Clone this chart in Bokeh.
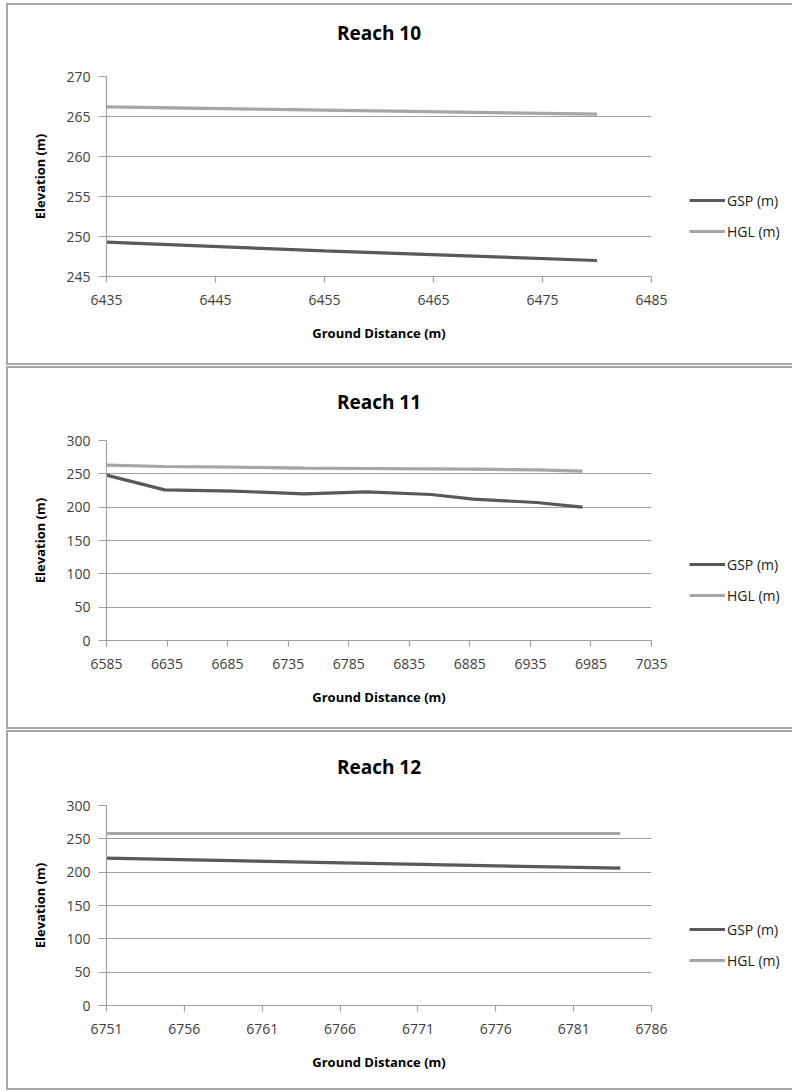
from bokeh.plotting import figure
from bokeh.models import Legend, LegendItem, Range1d, FixedTicker, Title
from bokeh.layouts import column
from bokeh.embed import file_html
from bokeh.resources import INLINE

# ---------------- data ----------------
titles = ["Reach 10", "Reach 11", "Reach 12"]
series_names = ["GSP (m)", "HGL (m)"]

x10 = [6435, 6455, 6480]
gsp10 = [249.3, 248.2, 247.0]
hgl10 = [266.2, 265.8, 265.3]
xticks10 = [6435, 6445, 6455, 6465, 6475, 6485]
yticks10 = [245, 250, 255, 260, 265, 270]

x11 = [6585, 6633, 6690, 6748, 6800, 6853, 6888, 6940, 6978]
gsp11 = [248, 226, 224, 220, 223, 219, 212, 207, 200]
hgl11 = [263, 261, 260, 258.5, 258, 257.5, 257, 256, 254]
xticks11 = [6585, 6635, 6685, 6735, 6785, 6835, 6885, 6935, 6985, 7035]
yticks11 = [0, 50, 100, 150, 200, 250, 300]

x12 = [6751, 6767, 6784]
gsp12 = [221, 213.5, 206]
hgl12 = [258, 258, 258]
xticks12 = [6751, 6756, 6761, 6766, 6771, 6776, 6781, 6786]
yticks12 = [0, 50, 100, 150, 200, 250, 300]

FONT = "Open Sans"
GSP_COLOR = "#595959"
HGL_COLOR = "#a6a6a6"
GRID = "#a0a0a0"
FRAME_W = 541
FRAME_H = 196


def make_panel(title, xs, gsp, hgl, xticks, yticks, height, top,
               gap_font, gap_standoff):
    bottom = height - top - FRAME_H
    p = figure(frame_width=FRAME_W, frame_height=FRAME_H,
               x_range=Range1d(xticks[0], xticks[-1]),
               y_range=Range1d(yticks[0], yticks[-1]),
               output_backend="svg", toolbar_location=None,
               min_border_left=98, min_border_right=143,
               min_border_top=top, min_border_bottom=bottom,
               styles={"border": "2px solid #a8a8a8"})
    p.title = None
    # invisible spacer between the title and the plot area
    p.add_layout(Title(text=" ", text_font=FONT, text_font_size=gap_font,
                       text_font_style="bold", standoff=gap_standoff), "above")
    p.add_layout(Title(text=title, align="center", text_font=FONT,
                       text_font_size="19px", text_font_style="bold",
                       text_color="black", standoff=0), "above")
    p.outline_line_color = None
    p.background_fill_color = "white"
    p.border_fill_color = "white"

    p.xaxis.ticker = FixedTicker(ticks=xticks)
    p.yaxis.ticker = FixedTicker(ticks=yticks)
    p.xgrid.grid_line_color = None
    p.ygrid.grid_line_color = GRID
    p.ygrid.grid_line_width = 1.2

    for ax in (p.xaxis[0], p.yaxis[0]):
        ax.axis_line_color = GRID
        ax.axis_line_width = 1.2
        ax.major_tick_line_color = GRID
        ax.major_tick_line_width = 1.2
        ax.major_tick_in = 0
        ax.minor_tick_line_color = None
        ax.major_label_text_font = FONT
        ax.major_label_text_font_size = "14px"
        ax.major_label_text_color = "#404040"
        ax.axis_label_text_font = FONT
        ax.axis_label_text_font_size = "13px"
        ax.axis_label_text_font_style = "bold"
        ax.axis_label_text_color = "black"

    p.xaxis.axis_label = "Ground Distance (m)"
    p.yaxis.axis_label = "Elevation (m)"
    p.xaxis.major_tick_out = 6
    p.xaxis.major_label_standoff = 12
    p.xaxis.axis_label_standoff = 16
    p.yaxis.major_tick_out = 8
    p.yaxis.major_label_standoff = 8
    p.yaxis.axis_label_standoff = 14

    r1 = p.line(xs, gsp, line_color=GSP_COLOR, line_width=3.2)
    r2 = p.line(xs, hgl, line_color=HGL_COLOR, line_width=3.2)

    legend = Legend(items=[LegendItem(label=series_names[0], renderers=[r1]),
                           LegendItem(label=series_names[1], renderers=[r2])],
                    location=(38, 35), margin=0, padding=0,
                    border_line_color=None, background_fill_alpha=0,
                    glyph_width=36, glyph_height=20, label_height=20,
                    label_standoff=2, spacing=11,
                    label_text_font=FONT, label_text_font_size="14px",
                    label_text_color="#202020")
    p.add_layout(legend, "right")
    return p


p1 = make_panel(titles[0], x10, gsp10, hgl10, xticks10, yticks10, 358, 71, "19px", 3)
p2 = make_panel(titles[1], x11, gsp11, hgl11, xticks11, yticks11, 359, 72, "17px", 1)
p3 = make_panel(titles[2], x12, gsp12, hgl12, xticks12, yticks12, 356, 73, "17px", 1)

layout = column(p1, p2, p3, spacing=1, margin=(3, 0, 0, 6))

open("out.html", "w").write(file_html(layout, INLINE))
